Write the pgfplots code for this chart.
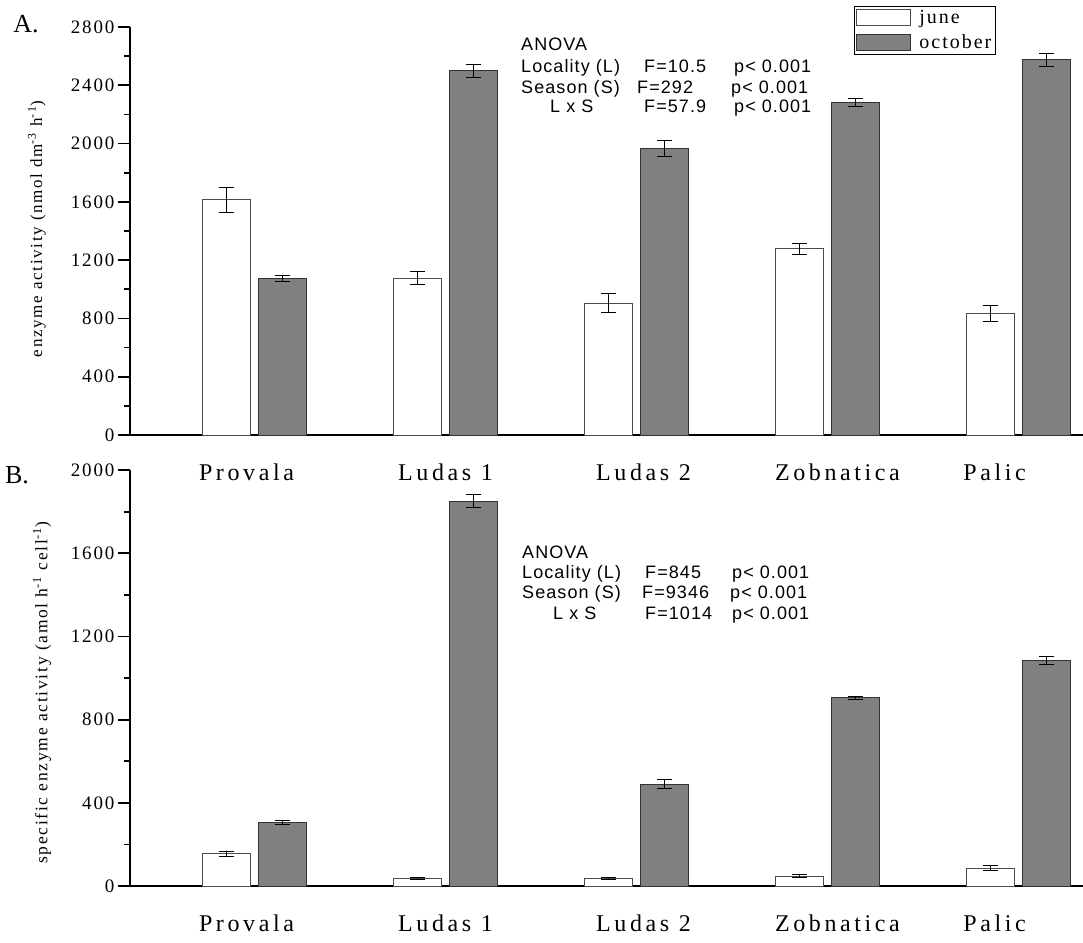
\documentclass[border=0pt]{standalone}
\usepackage{fontspec}
\setmainfont{Liberation Serif}
\newfontfamily\tickfont[LetterSpace=10]{Liberation Serif}
\newfontfamily\catfont[LetterSpace=15]{Liberation Serif}
\newfontfamily\labfont[LetterSpace=10]{Liberation Serif}
\newfontfamily\legfont[LetterSpace=10]{Liberation Serif}
\newfontfamily\anovafont[LetterSpace=6]{Liberation Sans}
\usepackage{graphicx}
\usepackage{pgfplots}
\usepackage{pgfplotstable}
\pgfplotsset{compat=1.18}

\pgfplotstableread{
x y e
0 1615 85
1 1075 45
2 905 65
3 1278 38
4 835 56
}\topjune
\pgfplotstableread{
x y e
0 1075 20
1 2500 45
2 1964 55
3 2280 26
4 2575 46
}\topoct
\pgfplotstableread{
x y e
0 155 12
1 35 4
2 35 4
3 48 5
4 85 12
}\botjune
\pgfplotstableread{
x y e
0 305 10
1 1850 30
2 490 20
3 905 8
4 1085 19
}\botoct

\definecolor{octgray}{HTML}{808080}

\pgfplotsset{
  mystyle/.style={
    scale only axis, width=953pt,
    xmin=-0.6518, xmax=4.3377, ymin=0,
    axis lines*=left,
    axis line style={line width=2.2pt, black},
    xtick={0,1,2,3,4},
    xticklabels={Provala\hspace*{16pt}, Ludas 1, \hspace*{14pt}Ludas 2, \hspace*{20pt}Zobnatica, Palic\hspace*{48pt}},
    x tick style={draw=none},
    xticklabel style={font=\catfont\fontsize{24}{24}\selectfont, anchor=base, yshift=-33pt},
    tick align=outside,
    major tick length=12pt, minor tick length=6pt,
    y tick style={line width=1.8pt, black},
    minor y tick num=1,
    yticklabel style={font=\tickfont\fontsize{19}{19}\selectfont},
    /pgf/number format/assume math mode=true,
    /pgf/number format/1000 sep={},
    scaled y ticks=false,
    clip=false,
  },
  junebar/.style={ybar, bar width=0.25, bar shift=0pt, fill=white, draw=black!70, line width=1pt,
    error bars/.cd, y dir=both, y explicit,
    error bar style={line width=1pt, black},
    error mark options={rotate=90, mark size=7.5pt, line width=1pt, black}},
  octbar/.style={ybar, bar width=0.25, bar shift=0pt, fill=octgray, draw=black!80, line width=1pt,
    error bars/.cd, y dir=both, y explicit,
    error bar style={line width=1pt, black},
    error mark options={rotate=90, mark size=7.5pt, line width=1pt, black}},
}

\begin{document}
\begin{tikzpicture}
\useasboundingbox (0pt,0pt) rectangle (1083pt,-942pt);

% ---------- panel A ----------
\begin{axis}[mystyle,
  at={(130pt,-435pt)}, anchor=south west,
  height=408pt, ymax=2800,
  ytick={0,400,...,2800},
  ylabel={enzyme activity (nmol dm\textsuperscript{-3} h\textsuperscript{-1})},
  every axis y label/.style={at={(axis description cs:-0.0976,0.505)}, rotate=90, anchor=center,
       font=\labfont\fontsize{17}{17}\selectfont},
  legend style={at={(axis description cs:0.7597,1.0525)}, anchor=north west,
    draw=black, line width=0.8pt, font=\legfont\fontsize{20}{22}\selectfont,
    inner xsep=2pt, inner ysep=2pt, row sep=6pt, cells={anchor=west},
    /tikz/every even column/.append style={column sep=0pt}},
  legend image code/.code={\draw[#1] (0pt,-8pt) rectangle (54pt,8pt);},
  legend cell align=left,
]
\addplot[junebar] table[x expr=\thisrow{x}-0.148, y=y, y error=e]{\topjune};
\addplot[octbar] table[x expr=\thisrow{x}+0.148, y=y, y error=e]{\topoct};
\legend{\hspace*{6pt}june, \hspace*{6pt}october}
\end{axis}

% ---------- panel B ----------
\begin{axis}[mystyle,
  at={(130pt,-886pt)}, anchor=south west,
  height=416pt, ymax=2000,
  ytick={0,400,...,2000},
  ylabel={specific enzyme activity (amol h\textsuperscript{-1} cell\textsuperscript{-1})},
  every axis y label/.style={at={(axis description cs:-0.0923,0.464)}, rotate=90, anchor=center,
       font=\labfont\fontsize{17.5}{17.5}\selectfont},
]
\addplot[junebar] table[x expr=\thisrow{x}-0.148, y=y, y error=e]{\botjune};
\addplot[octbar] table[x expr=\thisrow{x}+0.148, y=y, y error=e]{\botoct};
\end{axis}

% panel letters
\node[font=\fontsize{26}{26}\selectfont] at (26pt,-24pt) {A.};
\node[font=\fontsize{26}{26}\selectfont] at (17pt,-475pt) {B.};

% ANOVA text
\begin{scope}[x=1pt, y=1pt, every node/.style={anchor=base west, inner sep=0pt, font=\anovafont\fontsize{18}{18}\selectfont}]
\node at (521,-51) {ANOVA};
\node at (521,-73) {Locality (L)};
\node at (644,-73) {F=10.5};
\node at (734,-73) {p< 0.001};
\node at (521,-93) {Season (S)};
\node at (637,-93) {F=292};
\node at (731,-93) {p< 0.001};
\node at (550,-112) {L x S};
\node at (644,-112) {F=57.9};
\node at (734,-112) {p< 0.001};
\node at (522,-558) {ANOVA};
\node at (522,-578) {Locality (L)};
\node at (645,-578) {F=845};
\node at (732,-578) {p< 0.001};
\node at (522,-598) {Season (S)};
\node at (642,-598) {F=9346};
\node at (730,-598) {p< 0.001};
\node at (553,-619) {L x S};
\node at (645,-619) {F=1014};
\node at (732,-619) {p< 0.001};
\end{scope}
\end{tikzpicture}
\end{document}
